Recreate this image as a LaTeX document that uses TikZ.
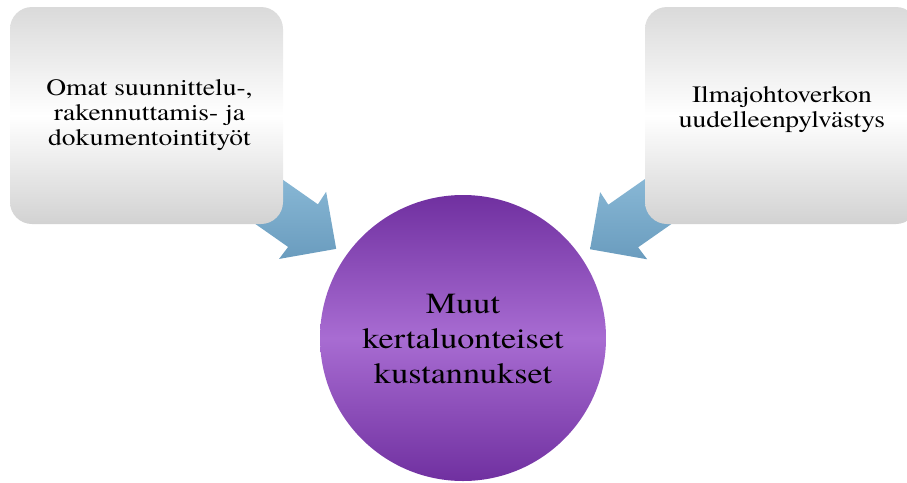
\documentclass[tikz,border=0pt]{standalone}
\usepackage{fontspec}
\setmainfont{TeX Gyre Termes}
\usetikzlibrary{backgrounds,calc}
\definecolor{boxtop}{RGB}{218,218,218}
\definecolor{boxbot}{RGB}{210,210,210}
\definecolor{purD}{RGB}{112,48,160}
\definecolor{purL}{RGB}{168,108,210}
\definecolor{arrL}{RGB}{141,188,217}
\definecolor{arrD}{RGB}{106,156,190}
\begin{document}
\begin{tikzpicture}[x=1pt,y=-1pt,
  boxstyle/.style={rectangle, rounded corners=22pt, minimum width=273pt, minimum height=217pt,
    top color=boxtop, bottom color=boxbot, middle color=white, inner sep=0pt},
  boxtext/.style={align=center, font=\fontsize{23.5}{25}\selectfont, inner sep=0pt, xscale=1.17, transform shape},
  hubstyle/.style={circle, minimum size=286pt, top color=purD, bottom color=purD, middle color=purL, inner sep=0pt},
  hubtext/.style={align=center, font=\fontsize{29.2}{35}\selectfont, inner sep=0pt, xscale=1.17, transform shape}]
\useasboundingbox (0,0) rectangle (907,482);
\clip (0,0) rectangle (907,482);
\node[boxstyle] (left) at (146.5,115.5) {};
\node[boxtext] (lefttext) at (149.5,115.5) {Omat suunnittelu-,\\rakennuttamis- ja\\dokumentointityöt};
\node[boxstyle] (right) at (781.5,115.5) {};
\node[boxtext] (righttext) at (782,110) {Ilmajohtoverkon\\uudelleenpylvästys};
\node[hubstyle] (hub) at (463,338) {};
\node[hubtext] (hubtext) at (463,339) {Muut\\kertaluonteiset\\kustannukset};
\coordinate (tipL) at ($(hub.center)!155pt!(left.center)$);
\coordinate (tipR) at ($(hub.center)!155pt!(right.center)$);
\begin{scope}[on background layer]
\shade[top color=arrL, bottom color=arrD, shift={(tipL)}, rotate=-35]
  (0,0) -- (-41,41) -- (-40.5,26) -- (-110,26) -- (-110,-26) -- (-40.5,-26) -- (-41,-41) -- cycle;
\shade[top color=arrL, bottom color=arrD, shift={(tipR)}, rotate=-145]
  (0,0) -- (-41,41) -- (-40.5,26) -- (-110,26) -- (-110,-26) -- (-40.5,-26) -- (-41,-41) -- cycle;
\end{scope}
\end{tikzpicture}
\end{document}
